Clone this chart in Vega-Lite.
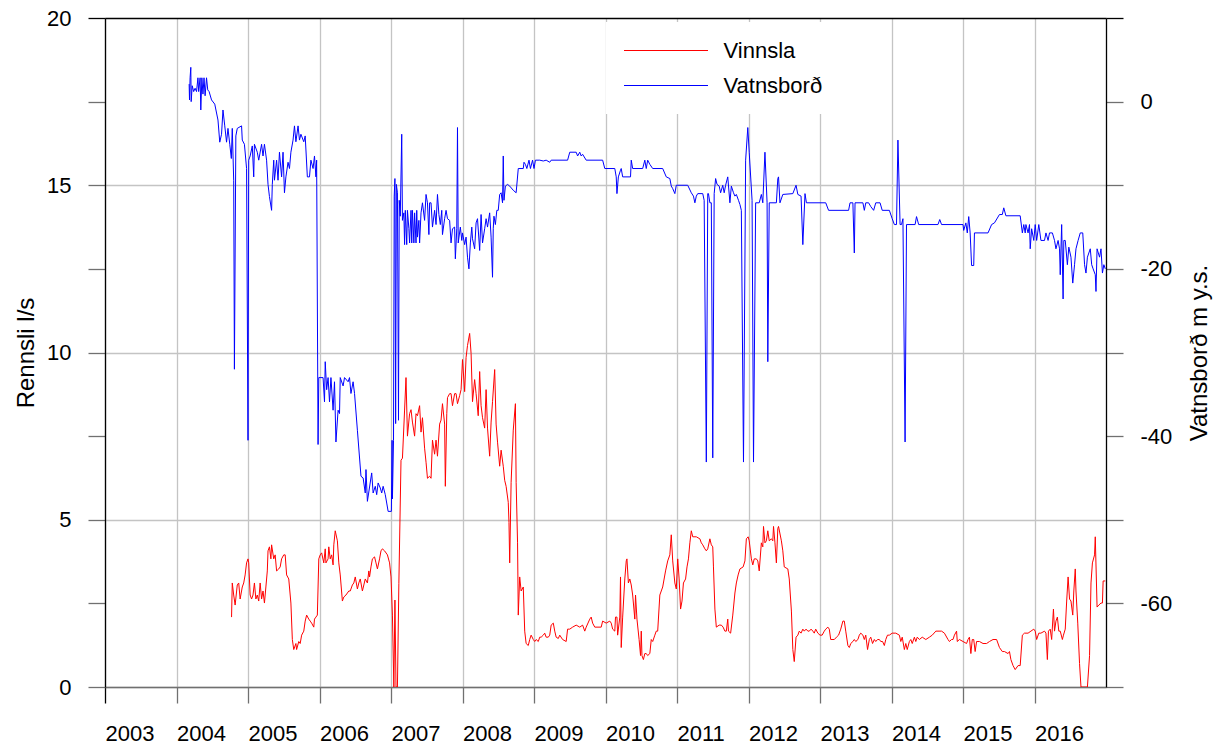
{
  "$schema": "https://vega.github.io/schema/vega-lite/v6.json",
  "width": 1001,
  "height": 669,
  "autosize": "none",
  "padding": {"left": 105, "top": 18, "right": 116, "bottom": 59},
  "background": "white",
  "config": {
    "view": {"stroke": null},
    "font": "Liberation Sans",
    "axis": {"labelFont": "Liberation Sans", "titleFont": "Liberation Sans", "labelColor": "#000", "titleColor": "#000", "titleFontWeight": "normal"},
    "legend": {"labelFont": "Liberation Sans"}
  },
  "datasets": {
    "red": [
      {"t":2004.77,"v":2.09},{"t":2004.78,"v":3.11},{"t":2004.80,"v":2.75},{"t":2004.82,"v":2.45},{"t":2004.85,"v":3.05},{"t":2004.87,"v":3.11},{"t":2004.89,"v":2.63},{"t":2004.92,"v":2.99},{"t":2004.94,"v":3.11},{"t":2004.96,"v":3.35},{"t":2004.98,"v":3.71},{"t":2005.00,"v":3.83},{"t":2005.01,"v":3.71},{"t":2005.03,"v":2.75},{"t":2005.05,"v":2.63},{"t":2005.07,"v":2.75},{"t":2005.09,"v":3.11},{"t":2005.11,"v":2.63},{"t":2005.13,"v":2.75},{"t":2005.15,"v":2.57},{"t":2005.17,"v":3.11},{"t":2005.19,"v":2.63},{"t":2005.21,"v":2.87},{"t":2005.23,"v":2.51},{"t":2005.25,"v":2.99},{"t":2005.27,"v":3.47},{"t":2005.28,"v":4.07},{"t":2005.30,"v":4.19},{"t":2005.32,"v":3.83},{"t":2005.33,"v":4.25},{"t":2005.36,"v":3.83},{"t":2005.38,"v":3.95},{"t":2005.40,"v":3.47},{"t":2005.43,"v":3.53},{"t":2005.45,"v":3.59},{"t":2005.47,"v":3.83},{"t":2005.50,"v":3.95},{"t":2005.52,"v":3.95},{"t":2005.54,"v":3.35},{"t":2005.57,"v":3.23},{"t":2005.60,"v":2.51},{"t":2005.62,"v":1.42},{"t":2005.64,"v":1.12},{"t":2005.67,"v":1.30},{"t":2005.68,"v":1.12},{"t":2005.71,"v":1.36},{"t":2005.73,"v":1.30},{"t":2005.75,"v":1.55},{"t":2005.78,"v":1.67},{"t":2005.80,"v":1.97},{"t":2005.82,"v":2.15},{"t":2005.85,"v":2.03},{"t":2005.87,"v":1.97},{"t":2005.89,"v":1.91},{"t":2005.92,"v":1.79},{"t":2005.93,"v":2.03},{"t":2005.95,"v":2.09},{"t":2005.97,"v":2.15},{"t":2005.99,"v":3.83},{"t":2006.01,"v":3.95},{"t":2006.03,"v":4.01},{"t":2006.06,"v":3.71},{"t":2006.08,"v":4.13},{"t":2006.09,"v":3.71},{"t":2006.12,"v":3.83},{"t":2006.13,"v":4.19},{"t":2006.15,"v":3.83},{"t":2006.17,"v":3.95},{"t":2006.19,"v":3.65},{"t":2006.20,"v":4.25},{"t":2006.22,"v":4.67},{"t":2006.25,"v":4.37},{"t":2006.27,"v":3.71},{"t":2006.29,"v":3.35},{"t":2006.32,"v":2.57},{"t":2006.34,"v":2.69},{"t":2006.37,"v":2.75},{"t":2006.41,"v":2.87},{"t":2006.43,"v":2.87},{"t":2006.46,"v":3.05},{"t":2006.48,"v":3.11},{"t":2006.50,"v":3.29},{"t":2006.53,"v":2.93},{"t":2006.55,"v":3.11},{"t":2006.57,"v":3.23},{"t":2006.60,"v":2.87},{"t":2006.62,"v":3.05},{"t":2006.64,"v":3.23},{"t":2006.67,"v":3.11},{"t":2006.69,"v":3.47},{"t":2006.70,"v":3.29},{"t":2006.72,"v":3.59},{"t":2006.74,"v":3.83},{"t":2006.77,"v":3.89},{"t":2006.79,"v":3.71},{"t":2006.81,"v":3.53},{"t":2006.84,"v":3.83},{"t":2006.86,"v":4.07},{"t":2006.88,"v":4.13},{"t":2006.91,"v":4.07},{"t":2006.95,"v":3.95},{"t":2006.98,"v":3.71},{"t":2007.00,"v":3.29},{"t":2007.02,"v":2.15},{"t":2007.04,"v":0.0},{"t":2007.055,"v":2.6},{"t":2007.07,"v":0.0},{"t":2007.09,"v":0.0},{"t":2007.11,"v":3.1},{"t":2007.14,"v":6.78},{"t":2007.16,"v":6.84},{"t":2007.19,"v":8.28},{"t":2007.21,"v":9.25},{"t":2007.23,"v":7.50},{"t":2007.26,"v":8.17},{"t":2007.28,"v":8.29},{"t":2007.30,"v":7.92},{"t":2007.33,"v":7.50},{"t":2007.35,"v":8.17},{"t":2007.37,"v":8.11},{"t":2007.40,"v":8.41},{"t":2007.42,"v":7.62},{"t":2007.44,"v":8.05},{"t":2007.47,"v":7.14},{"t":2007.49,"v":6.72},{"t":2007.51,"v":6.24},{"t":2007.54,"v":6.30},{"t":2007.56,"v":6.24},{"t":2007.58,"v":7.38},{"t":2007.61,"v":6.96},{"t":2007.63,"v":7.38},{"t":2007.65,"v":6.90},{"t":2007.68,"v":7.86},{"t":2007.70,"v":7.98},{"t":2007.72,"v":8.47},{"t":2007.75,"v":7.86},{"t":2007.76,"v":6.00},{"t":2007.78,"v":8.17},{"t":2007.79,"v":8.65},{"t":2007.82,"v":8.77},{"t":2007.84,"v":8.77},{"t":2007.86,"v":8.41},{"t":2007.89,"v":8.77},{"t":2007.91,"v":8.77},{"t":2007.93,"v":8.47},{"t":2007.96,"v":8.71},{"t":2007.98,"v":8.89},{"t":2008.00,"v":9.79},{"t":2008.03,"v":8.83},{"t":2008.05,"v":9.85},{"t":2008.07,"v":10.21},{"t":2008.10,"v":10.57},{"t":2008.12,"v":9.97},{"t":2008.14,"v":8.53},{"t":2008.17,"v":9.19},{"t":2008.19,"v":8.77},{"t":2008.22,"v":8.11},{"t":2008.24,"v":9.43},{"t":2008.26,"v":8.41},{"t":2008.28,"v":8.05},{"t":2008.31,"v":7.74},{"t":2008.33,"v":8.89},{"t":2008.35,"v":7.74},{"t":2008.38,"v":6.90},{"t":2008.40,"v":7.92},{"t":2008.42,"v":8.53},{"t":2008.45,"v":9.49},{"t":2008.47,"v":7.86},{"t":2008.49,"v":7.32},{"t":2008.52,"v":6.60},{"t":2008.54,"v":7.08},{"t":2008.57,"v":6.60},{"t":2008.59,"v":6.18},{"t":2008.61,"v":6.00},{"t":2008.64,"v":5.52},{"t":2008.65,"v":4.92},{"t":2008.66,"v":3.71},{"t":2008.68,"v":6.12},{"t":2008.71,"v":7.68},{"t":2008.74,"v":8.47},{"t":2008.75,"v":6.12},{"t":2008.77,"v":4.31},{"t":2008.78,"v":2.15},{"t":2008.80,"v":3.29},{"t":2008.82,"v":2.87},{"t":2008.85,"v":2.99},{"t":2008.87,"v":1.67},{"t":2008.89,"v":1.30},{"t":2008.92,"v":1.24},{"t":2008.94,"v":1.42},{"t":2008.96,"v":1.55},{"t":2008.99,"v":1.42},{"t":2009.01,"v":1.36},{"t":2009.03,"v":1.42},{"t":2009.06,"v":1.36},{"t":2009.08,"v":1.49},{"t":2009.10,"v":1.49},{"t":2009.13,"v":1.55},{"t":2009.15,"v":1.61},{"t":2009.17,"v":1.49},{"t":2009.20,"v":1.49},{"t":2009.22,"v":1.55},{"t":2009.24,"v":1.85},{"t":2009.27,"v":1.91},{"t":2009.29,"v":1.67},{"t":2009.31,"v":1.49},{"t":2009.34,"v":1.45},{"t":2009.36,"v":1.55},{"t":2009.40,"v":1.42},{"t":2009.45,"v":1.36},{"t":2009.47,"v":1.73},{"t":2009.50,"v":1.73},{"t":2009.54,"v":1.79},{"t":2009.59,"v":1.85},{"t":2009.64,"v":1.79},{"t":2009.68,"v":1.85},{"t":2009.71,"v":1.67},{"t":2009.73,"v":1.79},{"t":2009.78,"v":2.03},{"t":2009.80,"v":2.09},{"t":2009.82,"v":1.91},{"t":2009.85,"v":1.79},{"t":2009.94,"v":1.79},{"t":2009.96,"v":1.97},{"t":2010.01,"v":1.91},{"t":2010.06,"v":1.97},{"t":2010.08,"v":1.91},{"t":2010.10,"v":1.73},{"t":2010.13,"v":1.67},{"t":2010.14,"v":2.09},{"t":2010.16,"v":2.09},{"t":2010.17,"v":1.55},{"t":2010.20,"v":2.09},{"t":2010.21,"v":3.29},{"t":2010.22,"v":1.18},{"t":2010.24,"v":2.09},{"t":2010.27,"v":3.23},{"t":2010.29,"v":3.77},{"t":2010.30,"v":3.83},{"t":2010.32,"v":3.11},{"t":2010.34,"v":3.23},{"t":2010.36,"v":3.05},{"t":2010.38,"v":2.75},{"t":2010.41,"v":2.03},{"t":2010.42,"v":2.75},{"t":2010.44,"v":2.03},{"t":2010.47,"v":1.42},{"t":2010.49,"v":0.94},{"t":2010.50,"v":1.67},{"t":2010.51,"v":0.94},{"t":2010.53,"v":0.82},{"t":2010.55,"v":1.00},{"t":2010.57,"v":1.00},{"t":2010.59,"v":0.94},{"t":2010.62,"v":1.00},{"t":2010.64,"v":1.42},{"t":2010.66,"v":1.36},{"t":2010.69,"v":1.55},{"t":2010.71,"v":1.67},{"t":2010.73,"v":1.67},{"t":2010.76,"v":2.75},{"t":2010.80,"v":2.99},{"t":2010.84,"v":3.47},{"t":2010.87,"v":3.77},{"t":2010.90,"v":3.95},{"t":2010.92,"v":4.55},{"t":2010.94,"v":3.77},{"t":2010.97,"v":3.11},{"t":2010.99,"v":2.93},{"t":2011.01,"v":3.83},{"t":2011.03,"v":3.23},{"t":2011.05,"v":2.33},{"t":2011.07,"v":2.57},{"t":2011.09,"v":3.11},{"t":2011.12,"v":3.23},{"t":2011.14,"v":3.59},{"t":2011.16,"v":3.83},{"t":2011.18,"v":4.31},{"t":2011.20,"v":4.67},{"t":2011.22,"v":4.49},{"t":2011.27,"v":4.49},{"t":2011.32,"v":4.43},{"t":2011.34,"v":4.31},{"t":2011.36,"v":4.25},{"t":2011.39,"v":4.13},{"t":2011.41,"v":4.07},{"t":2011.43,"v":4.13},{"t":2011.46,"v":4.43},{"t":2011.48,"v":4.25},{"t":2011.50,"v":4.19},{"t":2011.51,"v":3.59},{"t":2011.53,"v":2.33},{"t":2011.55,"v":1.79},{"t":2011.59,"v":1.85},{"t":2011.62,"v":1.85},{"t":2011.645,"v":1.79},{"t":2011.67,"v":1.67},{"t":2011.69,"v":1.67},{"t":2011.71,"v":2.03},{"t":2011.72,"v":1.67},{"t":2011.75,"v":1.61},{"t":2011.78,"v":2.15},{"t":2011.81,"v":2.81},{"t":2011.83,"v":3.11},{"t":2011.855,"v":3.35},{"t":2011.88,"v":3.53},{"t":2011.925,"v":3.59},{"t":2011.95,"v":3.77},{"t":2011.97,"v":4.43},{"t":2011.995,"v":4.49},{"t":2012.01,"v":4.37},{"t":2012.04,"v":3.83},{"t":2012.06,"v":3.65},{"t":2012.08,"v":3.83},{"t":2012.11,"v":3.83},{"t":2012.13,"v":3.77},{"t":2012.15,"v":3.47},{"t":2012.18,"v":4.31},{"t":2012.20,"v":4.19},{"t":2012.21,"v":4.80},{"t":2012.23,"v":4.31},{"t":2012.25,"v":4.37},{"t":2012.27,"v":4.67},{"t":2012.29,"v":4.37},{"t":2012.32,"v":4.43},{"t":2012.34,"v":4.37},{"t":2012.35,"v":4.80},{"t":2012.37,"v":4.31},{"t":2012.39,"v":3.71},{"t":2012.41,"v":4.74},{"t":2012.42,"v":4.80},{"t":2012.46,"v":4.37},{"t":2012.48,"v":4.07},{"t":2012.50,"v":3.59},{"t":2012.55,"v":3.53},{"t":2012.57,"v":3.23},{"t":2012.60,"v":2.27},{"t":2012.62,"v":1.12},{"t":2012.64,"v":0.76},{"t":2012.665,"v":1.49},{"t":2012.69,"v":1.55},{"t":2012.71,"v":1.67},{"t":2012.735,"v":1.61},{"t":2012.76,"v":1.73},{"t":2012.78,"v":1.67},{"t":2012.805,"v":1.73},{"t":2012.83,"v":1.67},{"t":2012.85,"v":1.67},{"t":2012.875,"v":1.73},{"t":2012.90,"v":1.67},{"t":2012.92,"v":1.61},{"t":2012.94,"v":1.73},{"t":2012.97,"v":1.61},{"t":2013.00,"v":1.55},{"t":2013.03,"v":1.55},{"t":2013.06,"v":1.67},{"t":2013.08,"v":1.73},{"t":2013.11,"v":1.79},{"t":2013.13,"v":1.73},{"t":2013.15,"v":1.42},{"t":2013.20,"v":1.42},{"t":2013.23,"v":1.49},{"t":2013.26,"v":1.55},{"t":2013.29,"v":1.73},{"t":2013.32,"v":1.97},{"t":2013.34,"v":1.97},{"t":2013.36,"v":1.67},{"t":2013.39,"v":1.24},{"t":2013.41,"v":1.18},{"t":2013.43,"v":1.30},{"t":2013.46,"v":1.36},{"t":2013.48,"v":1.42},{"t":2013.50,"v":1.36},{"t":2013.53,"v":1.42},{"t":2013.55,"v":1.55},{"t":2013.57,"v":1.61},{"t":2013.60,"v":1.55},{"t":2013.62,"v":1.42},{"t":2013.64,"v":1.55},{"t":2013.665,"v":1.12},{"t":2013.69,"v":1.42},{"t":2013.71,"v":1.49},{"t":2013.735,"v":1.30},{"t":2013.76,"v":1.42},{"t":2013.78,"v":1.36},{"t":2013.805,"v":1.42},{"t":2013.83,"v":1.42},{"t":2013.85,"v":1.36},{"t":2013.875,"v":1.36},{"t":2013.90,"v":1.24},{"t":2013.92,"v":1.42},{"t":2013.944,"v":1.55},{"t":2013.97,"v":1.55},{"t":2014.01,"v":1.61},{"t":2014.06,"v":1.61},{"t":2014.11,"v":1.55},{"t":2014.13,"v":1.36},{"t":2014.15,"v":1.49},{"t":2014.18,"v":1.12},{"t":2014.20,"v":1.30},{"t":2014.22,"v":1.12},{"t":2014.25,"v":1.36},{"t":2014.27,"v":1.42},{"t":2014.29,"v":1.30},{"t":2014.32,"v":1.49},{"t":2014.34,"v":1.36},{"t":2014.36,"v":1.49},{"t":2014.39,"v":1.42},{"t":2014.43,"v":1.49},{"t":2014.48,"v":1.42},{"t":2014.53,"v":1.49},{"t":2014.57,"v":1.55},{"t":2014.62,"v":1.67},{"t":2014.665,"v":1.67},{"t":2014.70,"v":1.67},{"t":2014.74,"v":1.61},{"t":2014.79,"v":1.42},{"t":2014.81,"v":1.36},{"t":2014.84,"v":1.42},{"t":2014.86,"v":1.42},{"t":2014.88,"v":1.55},{"t":2014.91,"v":1.67},{"t":2014.92,"v":1.36},{"t":2014.95,"v":1.42},{"t":2015.00,"v":1.36},{"t":2015.05,"v":1.30},{"t":2015.07,"v":1.42},{"t":2015.09,"v":1.49},{"t":2015.11,"v":1.00},{"t":2015.13,"v":1.42},{"t":2015.15,"v":1.42},{"t":2015.17,"v":1.06},{"t":2015.19,"v":1.36},{"t":2015.23,"v":1.36},{"t":2015.28,"v":1.30},{"t":2015.33,"v":1.30},{"t":2015.37,"v":1.36},{"t":2015.42,"v":1.42},{"t":2015.47,"v":1.42},{"t":2015.51,"v":1.18},{"t":2015.55,"v":1.06},{"t":2015.58,"v":1.06},{"t":2015.63,"v":1.00},{"t":2015.65,"v":1.06},{"t":2015.67,"v":0.82},{"t":2015.70,"v":0.64},{"t":2015.73,"v":0.52},{"t":2015.77,"v":0.64},{"t":2015.80,"v":0.64},{"t":2015.83,"v":1.55},{"t":2015.86,"v":1.61},{"t":2015.91,"v":1.61},{"t":2015.95,"v":1.67},{"t":2015.99,"v":1.73},{"t":2016.01,"v":1.67},{"t":2016.03,"v":1.42},{"t":2016.06,"v":1.61},{"t":2016.09,"v":1.61},{"t":2016.14,"v":1.67},{"t":2016.16,"v":1.61},{"t":2016.18,"v":0.82},{"t":2016.195,"v":1.67},{"t":2016.22,"v":1.73},{"t":2016.24,"v":1.42},{"t":2016.265,"v":2.33},{"t":2016.28,"v":1.67},{"t":2016.30,"v":1.97},{"t":2016.32,"v":2.09},{"t":2016.34,"v":1.67},{"t":2016.36,"v":1.67},{"t":2016.39,"v":1.42},{"t":2016.405,"v":1.55},{"t":2016.43,"v":1.73},{"t":2016.45,"v":2.57},{"t":2016.47,"v":3.29},{"t":2016.49,"v":2.63},{"t":2016.51,"v":2.57},{"t":2016.535,"v":2.15},{"t":2016.55,"v":2.87},{"t":2016.57,"v":3.53},{"t":2016.58,"v":2.87},{"t":2016.605,"v":1.91},{"t":2016.63,"v":0.70},{"t":2016.65,"v":0.0},{"t":2016.74,"v":0.0},{"t":2016.77,"v":0.94},{"t":2016.79,"v":3.11},{"t":2016.81,"v":3.71},{"t":2016.84,"v":3.95},{"t":2016.85,"v":4.49},{"t":2016.875,"v":2.39},{"t":2016.90,"v":2.45},{"t":2016.93,"v":2.51},{"t":2016.95,"v":2.51},{"t":2016.96,"v":3.17},{"t":2016.99,"v":3.17}
    ],
    "blue": [
      {"t":2004.177,"v":2.1},{"t":2004.182,"v":0.2},{"t":2004.19,"v":2.85},{"t":2004.20,"v":4.1},{"t":2004.205,"v":0.0},{"t":2004.22,"v":1.9},{"t":2004.24,"v":1.2},{"t":2004.26,"v":1.6},{"t":2004.28,"v":1.2},{"t":2004.30,"v":2.85},{"t":2004.31,"v":1.2},{"t":2004.33,"v":2.85},{"t":2004.34,"v":-1.0},{"t":2004.355,"v":2.85},{"t":2004.37,"v":0.9},{"t":2004.385,"v":2.85},{"t":2004.40,"v":0.7},{"t":2004.42,"v":2.85},{"t":2004.437,"v":1.4},{"t":2004.456,"v":1.2},{"t":2004.49,"v":0.2},{"t":2004.535,"v":-0.3},{"t":2004.58,"v":-2.2},{"t":2004.605,"v":-4.85},{"t":2004.63,"v":-3.9},{"t":2004.65,"v":-1.0},{"t":2004.675,"v":-2.9},{"t":2004.70,"v":-4.85},{"t":2004.72,"v":-3.2},{"t":2004.745,"v":-5.1},{"t":2004.767,"v":-6.8},{"t":2004.78,"v":-3.2},{"t":2004.80,"v":-9.4},{"t":2004.81,"v":-32.0},{"t":2004.83,"v":-4.1},{"t":2004.85,"v":-3.2},{"t":2004.91,"v":-2.9},{"t":2004.92,"v":-4.6},{"t":2004.95,"v":-5.1},{"t":2004.98,"v":-8.0},{"t":2005.00,"v":-40.5},{"t":2005.01,"v":-7.0},{"t":2005.03,"v":-6.5},{"t":2005.06,"v":-5.3},{"t":2005.08,"v":-9.0},{"t":2005.09,"v":-5.1},{"t":2005.13,"v":-6.05},{"t":2005.15,"v":-7.0},{"t":2005.19,"v":-5.1},{"t":2005.21,"v":-6.5},{"t":2005.23,"v":-5.1},{"t":2005.26,"v":-7.0},{"t":2005.28,"v":-9.9},{"t":2005.30,"v":-11.35},{"t":2005.33,"v":-13.0},{"t":2005.34,"v":-9.9},{"t":2005.36,"v":-7.0},{"t":2005.37,"v":-9.4},{"t":2005.40,"v":-7.0},{"t":2005.42,"v":-9.4},{"t":2005.44,"v":-6.05},{"t":2005.47,"v":-9.0},{"t":2005.49,"v":-6.05},{"t":2005.51,"v":-10.9},{"t":2005.53,"v":-9.0},{"t":2005.56,"v":-7.25},{"t":2005.58,"v":-8.0},{"t":2005.60,"v":-6.05},{"t":2005.63,"v":-4.6},{"t":2005.65,"v":-2.9},{"t":2005.67,"v":-4.8},{"t":2005.70,"v":-2.9},{"t":2005.72,"v":-4.6},{"t":2005.74,"v":-3.9},{"t":2005.78,"v":-4.8},{"t":2005.80,"v":-4.1},{"t":2005.83,"v":-9.0},{"t":2005.86,"v":-9.0},{"t":2005.88,"v":-7.0},{"t":2005.91,"v":-8.0},{"t":2005.93,"v":-6.5},{"t":2005.95,"v":-9.0},{"t":2005.96,"v":-7.0},{"t":2005.98,"v":-41.0},{"t":2005.99,"v":-33.0},{"t":2006.05,"v":-33.0},{"t":2006.07,"v":-35.9},{"t":2006.08,"v":-31.1},{"t":2006.10,"v":-34.45},{"t":2006.12,"v":-33.0},{"t":2006.14,"v":-35.9},{"t":2006.16,"v":-33.0},{"t":2006.19,"v":-36.9},{"t":2006.21,"v":-33.5},{"t":2006.23,"v":-40.7},{"t":2006.26,"v":-36.9},{"t":2006.28,"v":-37.3},{"t":2006.29,"v":-33.0},{"t":2006.33,"v":-34.0},{"t":2006.35,"v":-33.0},{"t":2006.40,"v":-33.5},{"t":2006.42,"v":-33.0},{"t":2006.44,"v":-34.9},{"t":2006.47,"v":-33.5},{"t":2006.49,"v":-34.9},{"t":2006.53,"v":-39.3},{"t":2006.58,"v":-44.8},{"t":2006.61,"v":-45.0},{"t":2006.64,"v":-46.8},{"t":2006.65,"v":-44.0},{"t":2006.67,"v":-47.8},{"t":2006.73,"v":-44.4},{"t":2006.75,"v":-46.8},{"t":2006.78,"v":-46.0},{"t":2006.80,"v":-47.0},{"t":2006.82,"v":-45.6},{"t":2006.85,"v":-46.2},{"t":2006.87,"v":-46.8},{"t":2006.89,"v":-46.0},{"t":2006.92,"v":-47.0},{"t":2006.94,"v":-48.0},{"t":2006.96,"v":-49.0},{"t":2007.005,"v":-49.0},{"t":2007.015,"v":-40.5},{"t":2007.02,"v":-47.5},{"t":2007.035,"v":-40.5},{"t":2007.045,"v":-11.3},{"t":2007.055,"v":-9.2},{"t":2007.065,"v":-38.5},{"t":2007.075,"v":-9.9},{"t":2007.09,"v":-10.9},{"t":2007.105,"v":-38.1},{"t":2007.115,"v":-11.8},{"t":2007.13,"v":-13.7},{"t":2007.15,"v":-3.9},{"t":2007.16,"v":-14.2},{"t":2007.18,"v":-13.3},{"t":2007.19,"v":-17.1},{"t":2007.20,"v":-13.0},{"t":2007.22,"v":-17.1},{"t":2007.23,"v":-13.0},{"t":2007.25,"v":-15.2},{"t":2007.26,"v":-16.9},{"t":2007.28,"v":-13.0},{"t":2007.29,"v":-16.9},{"t":2007.30,"v":-13.0},{"t":2007.32,"v":-16.9},{"t":2007.33,"v":-13.3},{"t":2007.35,"v":-16.9},{"t":2007.36,"v":-13.0},{"t":2007.37,"v":-16.2},{"t":2007.39,"v":-14.2},{"t":2007.40,"v":-16.9},{"t":2007.42,"v":-13.3},{"t":2007.44,"v":-12.1},{"t":2007.47,"v":-14.2},{"t":2007.49,"v":-11.1},{"t":2007.51,"v":-12.1},{"t":2007.53,"v":-15.9},{"t":2007.54,"v":-12.1},{"t":2007.56,"v":-12.1},{"t":2007.58,"v":-15.0},{"t":2007.61,"v":-13.0},{"t":2007.63,"v":-14.7},{"t":2007.65,"v":-11.1},{"t":2007.67,"v":-13.5},{"t":2007.69,"v":-14.7},{"t":2007.71,"v":-13.0},{"t":2007.72,"v":-15.9},{"t":2007.75,"v":-14.0},{"t":2007.77,"v":-13.0},{"t":2007.79,"v":-14.0},{"t":2007.82,"v":-14.2},{"t":2007.84,"v":-16.9},{"t":2007.86,"v":-15.2},{"t":2007.89,"v":-15.0},{"t":2007.90,"v":-18.8},{"t":2007.92,"v":-15.2},{"t":2007.93,"v":-3.1},{"t":2007.94,"v":-16.9},{"t":2007.97,"v":-15.0},{"t":2007.99,"v":-16.6},{"t":2008.00,"v":-15.7},{"t":2008.03,"v":-17.1},{"t":2008.05,"v":-16.2},{"t":2008.07,"v":-18.6},{"t":2008.09,"v":-20.0},{"t":2008.11,"v":-16.9},{"t":2008.13,"v":-15.0},{"t":2008.14,"v":-16.4},{"t":2008.17,"v":-17.6},{"t":2008.19,"v":-14.5},{"t":2008.21,"v":-14.0},{"t":2008.24,"v":-17.8},{"t":2008.26,"v":-13.5},{"t":2008.28,"v":-16.9},{"t":2008.31,"v":-15.2},{"t":2008.33,"v":-14.0},{"t":2008.35,"v":-15.0},{"t":2008.38,"v":-13.3},{"t":2008.40,"v":-16.2},{"t":2008.42,"v":-21.0},{"t":2008.43,"v":-15.2},{"t":2008.44,"v":-13.7},{"t":2008.46,"v":-14.7},{"t":2008.48,"v":-13.0},{"t":2008.50,"v":-13.0},{"t":2008.52,"v":-11.1},{"t":2008.54,"v":-10.9},{"t":2008.56,"v":-12.1},{"t":2008.57,"v":-6.5},{"t":2008.58,"v":-11.8},{"t":2008.60,"v":-10.1},{"t":2008.63,"v":-9.9},{"t":2008.66,"v":-10.1},{"t":2008.71,"v":-10.6},{"t":2008.75,"v":-10.9},{"t":2008.78,"v":-8.0},{"t":2008.85,"v":-8.0},{"t":2008.86,"v":-7.25},{"t":2008.88,"v":-7.5},{"t":2008.90,"v":-8.0},{"t":2008.93,"v":-7.0},{"t":2008.95,"v":-8.0},{"t":2008.98,"v":-7.0},{"t":2009.00,"v":-8.0},{"t":2009.02,"v":-7.0},{"t":2009.08,"v":-7.0},{"t":2009.13,"v":-7.1},{"t":2009.17,"v":-7.0},{"t":2009.22,"v":-7.25},{"t":2009.24,"v":-7.0},{"t":2009.47,"v":-7.0},{"t":2009.50,"v":-6.05},{"t":2009.59,"v":-6.05},{"t":2009.61,"v":-6.5},{"t":2009.64,"v":-6.05},{"t":2009.66,"v":-6.5},{"t":2009.68,"v":-6.3},{"t":2009.73,"v":-7.0},{"t":2009.96,"v":-7.0},{"t":2009.99,"v":-8.0},{"t":2010.13,"v":-8.0},{"t":2010.15,"v":-9.0},{"t":2010.16,"v":-11.0},{"t":2010.18,"v":-9.0},{"t":2010.21,"v":-8.2},{"t":2010.22,"v":-8.0},{"t":2010.24,"v":-9.0},{"t":2010.35,"v":-9.0},{"t":2010.36,"v":-7.0},{"t":2010.38,"v":-8.0},{"t":2010.52,"v":-8.0},{"t":2010.55,"v":-7.0},{"t":2010.57,"v":-8.0},{"t":2010.59,"v":-7.0},{"t":2010.62,"v":-7.5},{"t":2010.66,"v":-8.0},{"t":2010.80,"v":-8.0},{"t":2010.85,"v":-9.0},{"t":2010.90,"v":-9.2},{"t":2010.92,"v":-10.1},{"t":2010.94,"v":-10.4},{"t":2010.97,"v":-11.0},{"t":2010.99,"v":-10.0},{"t":2011.15,"v":-10.0},{"t":2011.20,"v":-10.9},{"t":2011.23,"v":-11.3},{"t":2011.25,"v":-12.1},{"t":2011.27,"v":-11.3},{"t":2011.29,"v":-11.0},{"t":2011.36,"v":-11.0},{"t":2011.38,"v":-11.8},{"t":2011.41,"v":-43.1},{"t":2011.43,"v":-11.0},{"t":2011.44,"v":-11.0},{"t":2011.46,"v":-12.1},{"t":2011.48,"v":-12.1},{"t":2011.50,"v":-42.6},{"t":2011.52,"v":-11.0},{"t":2011.54,"v":-9.2},{"t":2011.56,"v":-9.9},{"t":2011.59,"v":-10.1},{"t":2011.61,"v":-10.9},{"t":2011.64,"v":-10.0},{"t":2011.66,"v":-10.9},{"t":2011.68,"v":-10.0},{"t":2011.71,"v":-9.0},{"t":2011.74,"v":-12.1},{"t":2011.76,"v":-10.1},{"t":2011.79,"v":-10.9},{"t":2011.81,"v":-11.3},{"t":2011.83,"v":-11.1},{"t":2011.86,"v":-11.8},{"t":2011.88,"v":-12.3},{"t":2011.90,"v":-13.0},{"t":2011.93,"v":-43.1},{"t":2011.96,"v":-7.0},{"t":2011.99,"v":-3.1},{"t":2012.01,"v":-6.05},{"t":2012.05,"v":-11.8},{"t":2012.07,"v":-43.1},{"t":2012.10,"v":-12.1},{"t":2012.15,"v":-12.1},{"t":2012.18,"v":-11.1},{"t":2012.20,"v":-12.1},{"t":2012.23,"v":-6.05},{"t":2012.26,"v":-12.1},{"t":2012.27,"v":-31.1},{"t":2012.29,"v":-12.1},{"t":2012.39,"v":-12.1},{"t":2012.41,"v":-9.2},{"t":2012.42,"v":-9.0},{"t":2012.44,"v":-12.1},{"t":2012.48,"v":-11.1},{"t":2012.62,"v":-11.0},{"t":2012.665,"v":-10.0},{"t":2012.69,"v":-11.1},{"t":2012.735,"v":-11.3},{"t":2012.76,"v":-17.1},{"t":2012.79,"v":-11.0},{"t":2012.81,"v":-12.1},{"t":2013.08,"v":-12.1},{"t":2013.12,"v":-13.0},{"t":2013.40,"v":-13.0},{"t":2013.42,"v":-12.1},{"t":2013.46,"v":-12.1},{"t":2013.48,"v":-18.1},{"t":2013.49,"v":-12.1},{"t":2013.60,"v":-12.1},{"t":2013.62,"v":-13.0},{"t":2013.64,"v":-12.1},{"t":2013.68,"v":-12.1},{"t":2013.71,"v":-12.55},{"t":2013.75,"v":-13.0},{"t":2013.78,"v":-12.1},{"t":2013.84,"v":-12.1},{"t":2013.87,"v":-13.0},{"t":2013.97,"v":-13.0},{"t":2014.01,"v":-14.0},{"t":2014.04,"v":-14.7},{"t":2014.07,"v":-14.7},{"t":2014.09,"v":-4.6},{"t":2014.12,"v":-14.7},{"t":2014.14,"v":-14.7},{"t":2014.16,"v":-14.0},{"t":2014.19,"v":-40.7},{"t":2014.21,"v":-14.7},{"t":2014.33,"v":-14.7},{"t":2014.35,"v":-13.75},{"t":2014.38,"v":-14.7},{"t":2014.65,"v":-14.7},{"t":2014.675,"v":-14.1},{"t":2014.70,"v":-14.7},{"t":2015.00,"v":-14.7},{"t":2015.01,"v":-15.4},{"t":2015.04,"v":-14.5},{"t":2015.06,"v":-15.7},{"t":2015.08,"v":-13.75},{"t":2015.10,"v":-15.7},{"t":2015.12,"v":-19.6},{"t":2015.15,"v":-19.6},{"t":2015.16,"v":-15.7},{"t":2015.35,"v":-15.7},{"t":2015.40,"v":-14.7},{"t":2015.44,"v":-14.5},{"t":2015.51,"v":-13.5},{"t":2015.55,"v":-13.5},{"t":2015.57,"v":-12.7},{"t":2015.60,"v":-13.65},{"t":2015.80,"v":-13.65},{"t":2015.83,"v":-15.7},{"t":2015.85,"v":-14.7},{"t":2015.87,"v":-15.7},{"t":2015.88,"v":-14.7},{"t":2015.91,"v":-15.7},{"t":2015.93,"v":-14.7},{"t":2015.94,"v":-17.6},{"t":2015.96,"v":-15.2},{"t":2015.99,"v":-16.6},{"t":2016.01,"v":-14.7},{"t":2016.03,"v":-16.6},{"t":2016.06,"v":-14.7},{"t":2016.09,"v":-16.6},{"t":2016.14,"v":-16.6},{"t":2016.16,"v":-15.7},{"t":2016.19,"v":-16.6},{"t":2016.21,"v":-15.7},{"t":2016.25,"v":-15.7},{"t":2016.28,"v":-16.6},{"t":2016.30,"v":-17.6},{"t":2016.33,"v":-16.6},{"t":2016.35,"v":-17.6},{"t":2016.36,"v":-20.7},{"t":2016.38,"v":-14.7},{"t":2016.40,"v":-23.6},{"t":2016.41,"v":-16.6},{"t":2016.43,"v":-16.6},{"t":2016.46,"v":-19.5},{"t":2016.48,"v":-17.4},{"t":2016.51,"v":-18.6},{"t":2016.535,"v":-21.7},{"t":2016.56,"v":-19.5},{"t":2016.58,"v":-17.6},{"t":2016.61,"v":-16.6},{"t":2016.64,"v":-15.7},{"t":2016.675,"v":-15.7},{"t":2016.70,"v":-19.5},{"t":2016.72,"v":-20.5},{"t":2016.74,"v":-18.6},{"t":2016.78,"v":-17.6},{"t":2016.80,"v":-19.5},{"t":2016.82,"v":-20.0},{"t":2016.85,"v":-20.7},{"t":2016.86,"v":-22.7},{"t":2016.875,"v":-17.6},{"t":2016.91,"v":-18.6},{"t":2016.93,"v":-17.6},{"t":2016.95,"v":-20.5},{"t":2016.97,"v":-19.5},{"t":2016.99,"v":-20.0}
    ]
  },
  "layer": [
    {
      "data": {"name": "red"},
      "mark": {"type": "line", "strokeWidth": 1, "clip": true},
      "encoding": {
        "x": {
          "field": "t", "type": "quantitative",
          "scale": {"domain": [2003, 2017], "nice": false, "zero": false},
          "axis": {
            "title": null,
            "values": [2003,2004,2005,2006,2007,2008,2009,2010,2011,2012,2013,2014,2015,2016],
            "labelExpr": "'' + datum.value",
            "grid": true, "gridColor": "#c4c4c4", "gridWidth": 1.3,
            "domainColor": "#707070", "domainWidth": 1.5,
            "tickColor": {"condition": {"test": "datum.value == 2003", "value": "#000000"}, "value": "#707070"},
            "tickSize": 16, "tickWidth": 1.3,
            "labelAlign": "left", "labelPadding": 20, "labelFontSize": 22,
            "labelFlush": false, "labelOverlap": false
          }
        },
        "y": {
          "field": "v", "type": "quantitative",
          "scale": {"domain": [0, 20], "nice": false, "zero": false},
          "axis": {
            "orient": "left",
            "title": "Rennsli l/s", "titleFontSize": 24, "titlePadding": 8,
            "values": [0,2.5,5,7.5,10,12.5,15,17.5,20],
            "labelExpr": "datum.value % 5 == 0 ? '' + datum.value : ''",
            "labelFontSize": 22, "labelPadding": 17,
            "tickSize": 17, "tickWidth": 1.3,
            "tickColor": {"condition": {"test": "datum.value == 20", "value": "#000000"}, "value": "#707070"},
            "grid": true, "gridWidth": 1.3,
            "gridColor": {"condition": {"test": "datum.value == 20", "value": "#000000"}, "value": "#c4c4c4"},
            "gridOpacity": {"condition": {"test": "datum.value % 5 != 0", "value": 0}, "value": 1},
            "domainColor": "#000000", "domainWidth": 1.3
          }
        },
        "color": {
          "datum": "Vinnsla", "type": "nominal",
          "scale": {"domain": ["Vinnsla", "Vatnsborð"], "range": ["#ff0000", "#0000ff"]},
          "legend": {
            "title": null, "orient": "none", "legendX": 501, "legendY": 4,
            "symbolType": "M-4,0H4", "symbolSize": 441, "symbolStrokeWidth": 1.2,
            "symbolOffset": 31.5,
            "labelFontSize": 22, "labelOffset": 46, "padding": 17,
            "fillColor": "white", "rowPadding": 12
          }
        }
      }
    },
    {
      "data": {"name": "blue"},
      "mark": {"type": "line", "strokeWidth": 1, "clip": true},
      "encoding": {
        "x": {"field": "t", "type": "quantitative"},
        "y": {
          "field": "v", "type": "quantitative",
          "scale": {"domain": [-70, 10], "nice": false, "zero": false},
          "axis": {
            "orient": "right",
            "title": "Vatnsborð m y.s.", "titleFontSize": 24, "titlePadding": 40, "titleAngle": 270,
            "values": [-70,-60,-50,-40,-30,-20,-10,0,10],
            "labelExpr": "datum.value % 20 == 0 ? '' + datum.value : ''",
            "labelFontSize": 22, "labelPadding": 17,
            "tickSize": 17, "tickWidth": 1.3,
            "tickColor": {"condition": {"test": "datum.value == 10", "value": "#000000"}, "value": "#707070"},
            "grid": false,
            "domainColor": "#000000", "domainWidth": 1.3
          }
        },
        "color": {"datum": "Vatnsborð", "type": "nominal"}
      }
    }
  ],
  "resolve": {"scale": {"y": "independent"}, "axis": {"y": "independent"}}
}
